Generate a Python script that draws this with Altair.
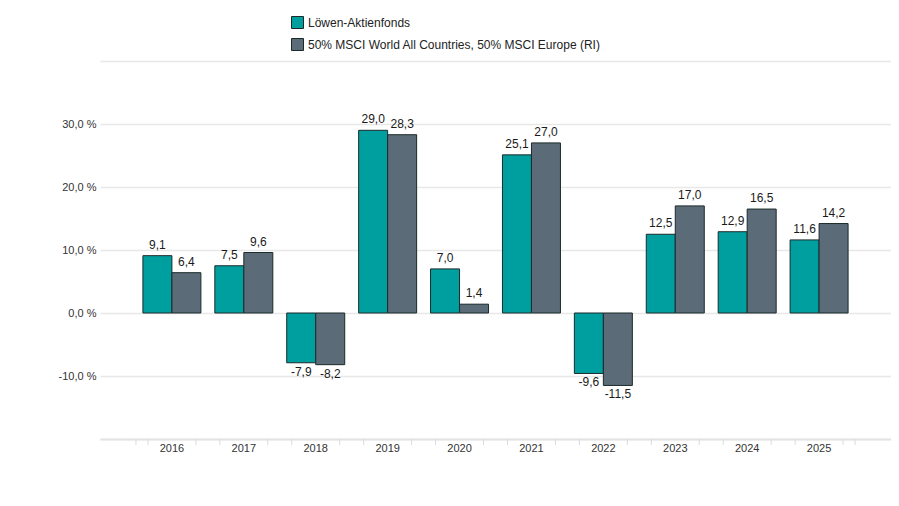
import altair as alt
import pandas as pd

years = ["2016", "2017", "2018", "2019", "2020", "2021", "2022", "2023", "2024", "2025"]
fund = [9.1, 7.5, -7.9, 29.0, 7.0, 25.1, -9.6, 12.5, 12.9, 11.6]
bench = [6.4, 9.6, -8.2, 28.3, 1.4, 27.0, -11.5, 17.0, 16.5, 14.2]
series_names = ["Löwen-Aktienfonds", "50% MSCI World All Countries, 50% MSCI Europe (RI)"]
colors = ["#009f9f", "#5b6b77"]
y_ticks = [-20, -10, 0, 10, 20, 30, 40]

rows = []
for i, y in enumerate(years):
    rows.append({"year": y, "series": series_names[0], "value": fund[i]})
    rows.append({"year": y, "series": series_names[1], "value": bench[i]})
df = pd.DataFrame(rows)
tick_df = pd.DataFrame({"year": years})

FONT = "Liberation Sans"
label_calc = "(datum.value < 0 ? '-' : '') + replace(format(abs(datum.value), '.1f'), '.', ',')"
y_label_expr = ("(datum.value <= -20 || datum.value >= 40) ? '' : "
                "((datum.value < 0 ? '-' : '') + replace(format(abs(datum.value), '.1f'), '.', ',') + ' %')")

xenc = alt.X("year:N", sort=years, title=None,
             scale=alt.Scale(domain=years, paddingInner=0, paddingOuter=0.5))
xoff = alt.XOffset("series:N", sort=series_names,
                   scale=alt.Scale(domain=series_names, paddingInner=0, paddingOuter=0.24))
yenc = alt.Y("value:Q", title=None,
             scale=alt.Scale(domain=[-20, 40], nice=False, zero=True),
             axis=alt.Axis(values=y_ticks, labelExpr=y_label_expr))

base = alt.Chart(df)

bars = base.mark_bar(stroke="#1c2a2a", strokeWidth=1).encode(
    x=xenc,
    xOffset=xoff,
    y=yenc,
    color=alt.Color("series:N", sort=series_names,
                    scale=alt.Scale(domain=series_names, range=colors),
                    legend=alt.Legend(title=None, orient="none", legendX=191, legendY=-45,
                                      direction="vertical", symbolType="square",
                                      symbolSize=144, symbolStrokeWidth=1,
                                      labelFontSize=12, labelColor="#222222", labelFont=FONT,
                                      labelOffset=4, rowPadding=5, padding=0, labelLimit=0)),
)

text_pos = base.transform_filter("datum.value >= 0").transform_calculate(
    label=label_calc).mark_text(baseline="bottom", dy=-4, fontSize=12, font=FONT,
                                color="#1a1a1a").encode(
    x=xenc, xOffset=xoff, y=yenc, text="label:N")

text_neg = base.transform_filter("datum.value < 0").transform_calculate(
    label=label_calc).mark_text(baseline="top", dy=4, fontSize=12, font=FONT,
                                color="#1a1a1a").encode(
    x=xenc, xOffset=xoff, y=yenc, text="label:N")

def tick_layer(data, bp):
    return alt.Chart(data).mark_rule(color="#dadada", strokeWidth=1).encode(
        x=alt.X("year:N", sort=years, title=None, bandPosition=bp),
        y=alt.datum(-20),
        y2=alt.value(384),
    )

ticks = [tick_layer(tick_df, 1 / 6), tick_layer(tick_df, 5 / 6),
         tick_layer(tick_df.iloc[:1], 0.0), tick_layer(tick_df.iloc[-1:], 1.0)]

chart = alt.layer(bars, text_pos, text_neg, *ticks).properties(
    width=791, height=378,
    autosize=alt.AutoSizeParams(type="none"),
    padding={"left": 92, "top": 53, "right": 0, "bottom": 30},
).configure_view(stroke=None).configure_axisY(
    domain=False, ticks=False, gridColor="#e8e8e8", gridWidth=1.5,
    labelColor="#333333", labelFont=FONT, labelFontSize=11, labelPadding=4,
).configure_axisX(
    domain=True, domainColor="#e4e4e4", domainWidth=2, ticks=False, grid=False,
    labelColor="#333333", labelFont=FONT, labelFontSize=11, labelPadding=3, labelAngle=0,
)

chart.save("out.html", embed_options={"renderer": "svg", "actions": False})
